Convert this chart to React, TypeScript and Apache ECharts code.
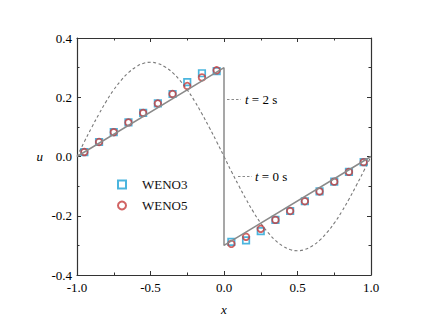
import React, { useEffect, useRef } from 'react';
import * as echarts from 'echarts';

// initial condition t = 0 s (dashed)
const xInit = [
  -1.0, -0.95, -0.9, -0.85, -0.8, -0.75, -0.7, -0.65, -0.6, -0.55, -0.5,
  -0.45, -0.4, -0.35, -0.3, -0.25, -0.2, -0.15, -0.1, -0.05, 0.0,
  0.05, 0.1, 0.15, 0.2, 0.25, 0.3, 0.35, 0.4, 0.45, 0.5,
  0.55, 0.6, 0.65, 0.7, 0.75, 0.8, 0.85, 0.9, 0.95, 1.0,
];
const uInit = [
  0.0, 0.05, 0.098, 0.144, 0.187, 0.225, 0.257, 0.283, 0.302, 0.314, 0.318,
  0.314, 0.302, 0.283, 0.257, 0.225, 0.187, 0.144, 0.098, 0.05, 0.0,
  -0.05, -0.098, -0.144, -0.187, -0.225, -0.257, -0.283, -0.302, -0.314, -0.318,
  -0.314, -0.302, -0.283, -0.257, -0.225, -0.187, -0.144, -0.098, -0.05, 0.0,
];

// exact solution t = 2 s (solid)
const xExact = [-1.0, 0.0, 0.0, 1.0];
const uExact = [0.0, 0.3, -0.3, 0.0];

// cell centres
const xCells = [
  -0.95, -0.85, -0.75, -0.65, -0.55, -0.45, -0.35, -0.25, -0.15, -0.05,
  0.05, 0.15, 0.25, 0.35, 0.45, 0.55, 0.65, 0.75, 0.85, 0.95,
];
const weno3 = [
  0.015, 0.049, 0.082, 0.115, 0.147, 0.179, 0.211, 0.251, 0.281, 0.288,
  -0.288, -0.283, -0.252, -0.214, -0.184, -0.151, -0.118, -0.085, -0.052, -0.019,
];
const weno5 = [
  0.015, 0.049, 0.082, 0.115, 0.147, 0.179, 0.211, 0.238, 0.267, 0.291,
  -0.295, -0.271, -0.244, -0.214, -0.184, -0.151, -0.118, -0.085, -0.052, -0.019,
];

const xTicks = ['-1.0', '-0.5', '0.0', '0.5', '1.0'];
const yTicks = ['-0.4', '-0.2', '0.0', '0.2', '0.4'];

const FONT = 'Liberation Serif';
const AXIS = '#333';
const GRAY = '#8a8a8a';

export default function App() {
  const ref = useRef<HTMLDivElement>(null);
  useEffect(() => {
    if (!ref.current) return;
    const chart = echarts.init(ref.current, null, { renderer: 'svg' });
    const axisCommon = {
      axisLine: { show: true, onZero: false, lineStyle: { color: AXIS, width: 1.2 } },
      axisTick: { show: true, inside: true, length: 4, lineStyle: { color: AXIS, width: 1 } },
      minorTick: { show: true, splitNumber: 2, length: 2.5, lineStyle: { color: AXIS, width: 1 } },
      splitLine: { show: false },
      minorSplitLine: { show: false },
    };
    const option: any = {
      animation: false,
      backgroundColor: '#fff',
      textStyle: { fontFamily: FONT },
      grid: { left: 77, right: 60, top: 38, bottom: 55, containLabel: false },
      xAxis: [
        {
          type: 'value', min: -1, max: 1, interval: 0.5, position: 'bottom',
          name: 'x', nameLocation: 'middle', nameGap: 28,
          nameTextStyle: { fontFamily: FONT, fontStyle: 'italic', fontSize: 13, color: '#000' },
          axisLabel: {
            fontFamily: FONT, fontSize: 13, color: '#000', margin: 6,
            formatter: (v: number) => xTicks[Math.round((v + 1) / 0.5)] ?? '',
          },
          ...axisCommon,
        },
        {
          type: 'value', min: -1, max: 1, interval: 0.5, position: 'top',
          axisLabel: { show: false },
          ...axisCommon,
        },
      ],
      yAxis: [
        {
          type: 'value', min: -0.4, max: 0.4, interval: 0.2, position: 'left',
          name: 'u', nameLocation: 'middle', nameGap: 34, nameRotate: 0,
          nameTextStyle: { fontFamily: FONT, fontStyle: 'italic', fontSize: 13, color: '#000', padding: [0, 0, 8, 0] },
          axisLabel: {
            fontFamily: FONT, fontSize: 13, color: '#000', margin: 5,
            formatter: (v: number) => yTicks[Math.round((v + 0.4) / 0.2)] ?? '',
          },
          ...axisCommon,
        },
        {
          type: 'value', min: -0.4, max: 0.4, interval: 0.2, position: 'right',
          axisLabel: { show: false },
          ...axisCommon,
        },
      ],
      legend: {
        data: ['WENO3', 'WENO5'],
        orient: 'vertical',
        left: 112,
        top: 173,
        itemWidth: 8,
        itemHeight: 8,
        itemGap: 8,
        textStyle: { fontFamily: FONT, fontSize: 13, color: '#111', lineHeight: 13, padding: [0, 0, 0, 11] },
      },
      series: [
        {
          name: 't = 0 s', type: 'line', xAxisIndex: 0, yAxisIndex: 0,
          data: xInit.map((x, i) => [x, uInit[i]]),
          showSymbol: false, symbol: 'none', smooth: true,
          lineStyle: { color: '#7a7a7a', width: 1.1, type: [3, 2.5] },
          z: 1,
        },
        {
          name: 't = 2 s', type: 'line', xAxisIndex: 0, yAxisIndex: 0,
          data: xExact.map((x, i) => [x, uExact[i]]),
          showSymbol: false, symbol: 'none',
          lineStyle: { color: GRAY, width: 1.5 },
          z: 4,
        },
        {
          name: 'WENO3', type: 'scatter', xAxisIndex: 0, yAxisIndex: 0,
          data: xCells.map((x, i) => [x, weno3[i]]),
          symbol: 'rect', symbolSize: 6.5,
          itemStyle: { color: 'rgba(0,0,0,0)', borderColor: '#1ea3d6', borderWidth: 1.7 },
          z: 2,
        },
        {
          name: 'WENO5', type: 'scatter', xAxisIndex: 0, yAxisIndex: 0,
          data: xCells.map((x, i) => [x, weno5[i]]),
          symbol: 'circle', symbolSize: 6.5,
          itemStyle: { color: 'rgba(0,0,0,0)', borderColor: '#c63c3c', borderWidth: 1.8 },
          z: 3,
        },
      ],
      graphic: [
        {
          type: 'line', shape: { x1: 227, y1: 99.5, x2: 241, y2: 99.5 },
          style: { stroke: GRAY, lineWidth: 1, lineDash: [2.5, 2] },
        },
        {
          type: 'text', x: 245, y: 99.5,
          style: {
            text: '{i|t} = 2 s', fontFamily: FONT, fontSize: 13, fill: '#000',
            verticalAlign: 'middle',
            rich: { i: { fontStyle: 'italic', fontFamily: FONT, fontSize: 13, fill: '#000' } },
          },
        },
        {
          type: 'line', shape: { x1: 238, y1: 176.5, x2: 252, y2: 176.5 },
          style: { stroke: GRAY, lineWidth: 1, lineDash: [2.5, 2] },
        },
        {
          type: 'text', x: 255, y: 176.5,
          style: {
            text: '{i|t} = 0 s', fontFamily: FONT, fontSize: 13, fill: '#000',
            verticalAlign: 'middle',
            rich: { i: { fontStyle: 'italic', fontFamily: FONT, fontSize: 13, fill: '#000' } },
          },
        },
      ],
    };
    chart.setOption(option);
    return () => chart.dispose();
  }, []);
  return <div ref={ref} style={{ width: 431, height: 330, position: 'absolute', left: 0, top: 0 }} />;
}
